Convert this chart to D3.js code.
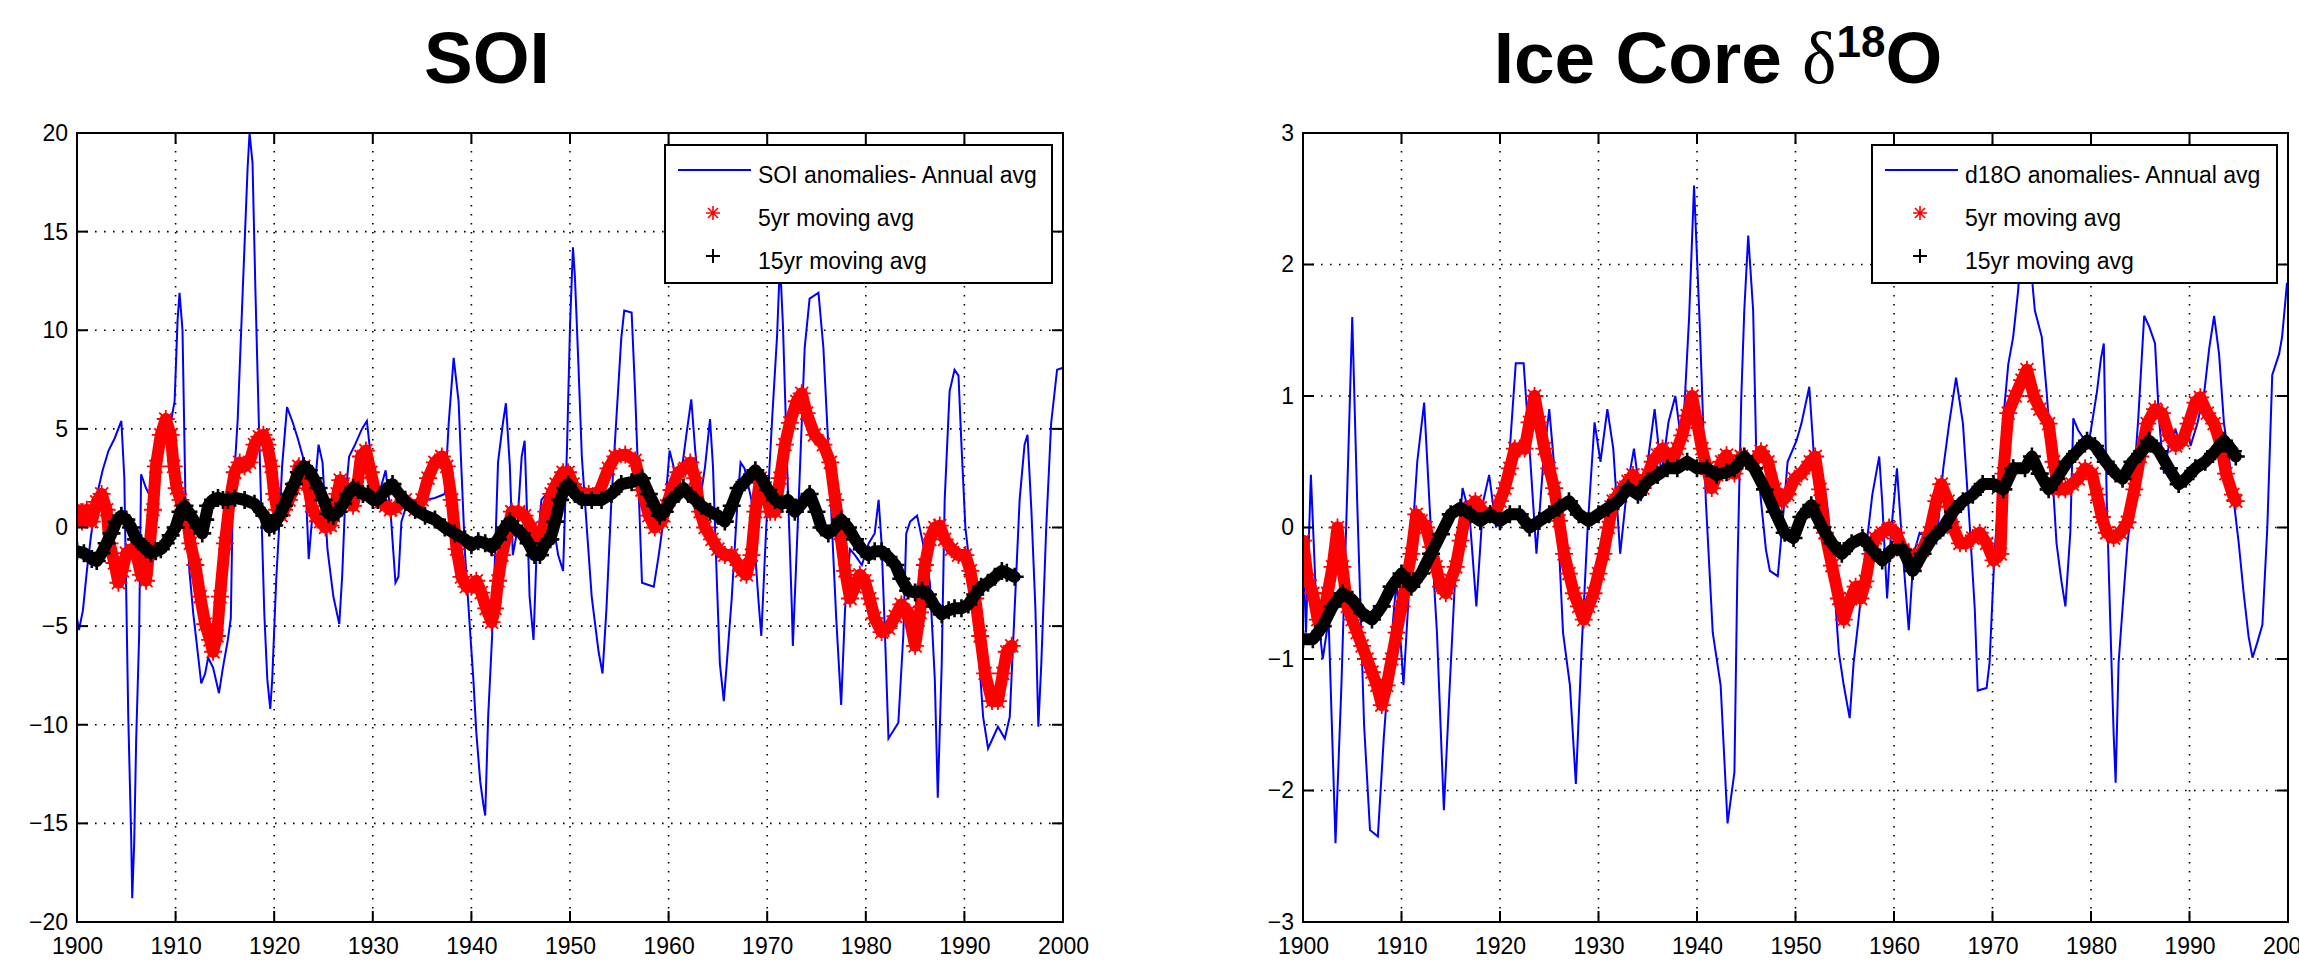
<!DOCTYPE html>
<html><head><meta charset="utf-8">
<script src="https://cdn.jsdelivr.net/npm/d3@7/dist/d3.min.js"></script>
<style>body{margin:0;background:#fff}svg{display:block}</style>
</head><body>
<svg id="c" width="2299" height="969"></svg>
<script>
// ---------- data ----------
const xTicks = [1900,1910,1920,1930,1940,1950,1960,1970,1980,1990,2000];
const soiTicks = [-20,-15,-10,-5,0,5,10,15,20];
const iceTicks = [-3,-2,-1,0,1,2,3];

const soiLegend = ["SOI anomalies- Annual avg","5yr moving avg","15yr moving avg"];
const iceLegend = ["d18O anomalies- Annual avg","5yr moving avg","15yr moving avg"];

const soiAnnual = [[1900.0,-4.6],[1900.2,-5.2],[1900.6,-4.2],[1901.0,-2.2],[1901.4,-0.5],[1902.0,1.6],[1902.6,2.9],[1903.2,3.9],[1903.8,4.5],[1904.5,5.4],[1904.8,2.5],[1905.2,-9.6],[1905.5,-15.8],[1905.6,-18.8],[1905.8,-16],[1906.0,-10.8],[1906.3,-5.5],[1906.5,2.7],[1907.0,2.0],[1907.4,1.6],[1907.8,2.8],[1908.2,4.2],[1908.8,4.6],[1909.4,5.0],[1909.9,6.4],[1910.2,10.5],[1910.4,11.9],[1910.7,10.0],[1911.0,1.4],[1911.4,-2.2],[1911.8,-4.4],[1912.1,-5.7],[1912.6,-7.9],[1913.0,-7.4],[1913.3,-6.6],[1913.8,-7.1],[1914.4,-8.4],[1914.8,-7.1],[1915.3,-5.7],[1915.6,-4.6],[1915.8,1.4],[1916.3,5.5],[1916.8,11.9],[1917.3,18.2],[1917.5,20],[1917.8,18.5],[1918.1,11.9],[1918.5,4.2],[1919.0,-4.4],[1919.3,-7.7],[1919.6,-9.2],[1919.8,-7.7],[1920.2,-2.7],[1920.5,0],[1920.8,3.1],[1921.3,6.1],[1921.9,5.3],[1922.4,4.5],[1922.9,3.6],[1923.2,2.0],[1923.5,-1.6],[1924.0,1.4],[1924.5,4.2],[1924.9,3.3],[1925.4,-1.1],[1926.0,-3.5],[1926.6,-4.9],[1926.9,-2.4],[1927.2,1.4],[1927.6,3.6],[1928.2,4.2],[1928.9,5.0],[1929.4,5.4],[1929.9,3.1],[1930.3,1.4],[1930.8,2.0],[1931.3,2.9],[1931.8,0.8],[1932.3,-2.8],[1932.6,-2.5],[1932.9,0.3],[1933.6,1.4],[1934.3,1.4],[1935.3,1.4],[1936.3,1.5],[1937.3,1.7],[1937.7,5.3],[1938.2,8.6],[1938.7,6.4],[1939.0,2.8],[1939.35,-1.3],[1939.9,-5.5],[1940.2,-7.7],[1940.5,-10.4],[1940.9,-12.9],[1941.2,-14.0],[1941.4,-14.6],[1941.7,-9.6],[1942.1,-5.5],[1942.4,-1.4],[1942.7,3.3],[1943.2,5.3],[1943.5,6.3],[1943.9,3.1],[1944.2,-1.4],[1944.6,-0.3],[1945.1,3.6],[1945.4,4.4],[1945.6,1.4],[1945.9,-3.5],[1946.3,-5.7],[1946.6,-1.4],[1947.1,1.4],[1947.6,1.7],[1948.1,0.8],[1948.8,-1.4],[1949.3,-2.2],[1949.7,4.1],[1950.0,10.2],[1950.3,14.2],[1950.5,12.7],[1950.85,8.3],[1951.2,3.6],[1951.7,0],[1952.2,-3.5],[1952.9,-6.3],[1953.3,-7.4],[1953.7,-4.1],[1954.2,1.4],[1954.7,5.5],[1955.2,9.6],[1955.5,11.0],[1956.25,10.9],[1956.6,6.9],[1956.9,2.8],[1957.3,-2.8],[1957.9,-2.9],[1958.5,-3.0],[1959.0,-1.4],[1959.6,0.8],[1960.1,3.9],[1960.5,3.1],[1960.8,1.4],[1961.3,2.8],[1961.8,4.7],[1962.3,6.5],[1962.7,3.9],[1963.2,1.4],[1963.7,3.1],[1964.2,5.5],[1964.5,3.1],[1964.9,-2.8],[1965.2,-6.9],[1965.6,-8.8],[1965.9,-6.9],[1966.4,-3.6],[1967.0,1.4],[1967.3,3.3],[1967.7,3.0],[1968.4,1.4],[1969.1,-3.6],[1969.4,-5.5],[1969.9,0],[1970.5,5.5],[1971.0,9.7],[1971.3,13.5],[1971.6,10.2],[1972.1,1.9],[1972.5,-4.1],[1972.6,-6.0],[1973.2,1.4],[1973.8,9.1],[1974.3,11.6],[1975.2,11.9],[1975.7,9.1],[1976.2,4.1],[1976.7,-1.4],[1977.0,-4.6],[1977.5,-9.0],[1977.9,-4.1],[1978.4,-1.1],[1978.9,-1.4],[1979.6,-1.9],[1980.3,-0.8],[1980.9,-0.3],[1981.3,1.4],[1981.6,-0.8],[1981.95,-5.5],[1982.3,-10.7],[1983.3,-9.9],[1983.8,-5.5],[1984.1,-0.3],[1984.5,0.3],[1985.2,0.6],[1985.8,-0.8],[1986.5,-2.8],[1987.0,-7.7],[1987.3,-13.7],[1987.7,-6.9],[1988.0,1.4],[1988.5,6.9],[1989.0,8.0],[1989.4,7.7],[1989.7,4.2],[1990.1,0],[1990.6,-2.2],[1991.2,-4.6],[1991.9,-9.6],[1992.4,-11.2],[1993.4,-10.1],[1994.1,-10.7],[1994.6,-9.6],[1995.1,-4.1],[1995.6,1.4],[1996.1,4.2],[1996.4,4.7],[1996.8,0.8],[1997.2,-4.1],[1997.5,-10.1],[1997.8,-6.9],[1998.3,0],[1998.8,5.3],[1999.4,8.0],[2000.0,8.1]];

const soiMA5 = [[1900.0,0.9],[1900.5,0.3],[1901.0,0.9],[1901.5,0.3],[1902.0,1.3],[1902.5,1.7],[1903.0,0.9],[1903.3,-0.8],[1903.8,-1.8],[1904.2,-2.8],[1904.6,-2.2],[1905.0,-1.3],[1905.5,-1.1],[1906.0,-1.3],[1906.5,-2.4],[1907.0,-2.7],[1907.3,-1.3],[1907.7,0.9],[1908.0,3.1],[1908.5,4.7],[1909.0,5.5],[1909.5,4.7],[1909.8,3.1],[1910.1,2.0],[1910.5,1.4],[1910.8,0.9],[1911.2,0.3],[1911.5,-0.8],[1912.0,-1.9],[1912.5,-3.5],[1913.0,-4.9],[1913.5,-5.7],[1913.8,-6.3],[1914.2,-5.5],[1914.5,-3.5],[1915.0,-0.8],[1915.5,1.4],[1916.0,2.8],[1916.5,3.3],[1917.0,3.1],[1917.5,3.3],[1918.0,4.2],[1918.5,4.6],[1918.9,4.7],[1919.3,4.2],[1919.7,3.1],[1920.0,1.7],[1920.3,0.9],[1920.7,0.6],[1921.0,0.9],[1921.5,1.4],[1922.0,2.0],[1922.5,3.1],[1923.0,3.1],[1923.4,2.2],[1923.8,1.1],[1924.2,0.6],[1924.7,0.3],[1925.2,0],[1925.7,0.1],[1926.0,0.6],[1926.4,1.7],[1926.7,2.4],[1927.0,2.2],[1927.5,1.4],[1928.0,1.1],[1928.4,2.0],[1928.8,3.6],[1929.3,3.9],[1929.8,2.8],[1930.3,1.7],[1930.8,1.3],[1931.3,1.1],[1931.8,0.9],[1932.3,1.0],[1933.3,1.4],[1934.3,0.9],[1935.0,1.4],[1935.6,2.5],[1936.3,3.3],[1937.0,3.6],[1937.5,3.1],[1938.0,1.4],[1938.5,-1.1],[1939.0,-2.5],[1939.5,-3.0],[1940.0,-3.0],[1940.5,-2.7],[1941.0,-3.3],[1941.5,-4.1],[1942.05,-4.8],[1942.4,-4.1],[1942.7,-2.7],[1943.1,-1.4],[1943.6,-0.3],[1944.1,0.8],[1944.8,0.8],[1945.4,0.6],[1946.1,0],[1946.6,-0.6],[1947.1,-0.6],[1947.6,0.8],[1948.1,1.7],[1948.6,2.2],[1949.3,2.8],[1949.8,2.8],[1950.3,2.2],[1951.0,1.7],[1951.9,1.7],[1952.9,1.7],[1953.9,3.0],[1954.6,3.6],[1955.6,3.7],[1956.6,3.4],[1957.3,1.9],[1958.0,0.6],[1958.6,0],[1959.3,0.3],[1959.8,1.1],[1960.3,1.9],[1961.0,2.8],[1961.7,3.0],[1962.2,3.3],[1962.7,2.5],[1963.2,0.8],[1963.7,0],[1964.4,-0.6],[1965.0,-1.1],[1965.7,-1.4],[1966.4,-1.4],[1967.1,-1.9],[1967.4,-2.2],[1967.9,-2.4],[1968.4,-1.4],[1968.8,0.8],[1969.3,2.5],[1969.8,2.0],[1970.3,0.8],[1970.8,0.8],[1971.3,2.5],[1971.8,4.2],[1972.3,5.3],[1973.0,6.4],[1973.5,6.8],[1974.0,5.8],[1974.8,4.7],[1975.7,4.2],[1976.4,3.3],[1976.9,1.4],[1977.4,-0.3],[1977.9,-2.2],[1978.4,-3.6],[1978.9,-3.0],[1979.4,-2.4],[1979.9,-2.7],[1980.4,-3.6],[1980.9,-4.6],[1981.6,-5.3],[1982.3,-5.1],[1983.0,-4.5],[1983.6,-3.9],[1984.3,-4.3],[1985.0,-6.0],[1985.5,-4.3],[1986.0,-1.9],[1986.5,-0.6],[1987.0,0],[1987.5,0.1],[1988.0,-0.6],[1988.7,-1.1],[1989.4,-1.4],[1990.1,-1.4],[1990.6,-2.2],[1991.1,-3.6],[1991.6,-5.5],[1992.1,-7.4],[1992.8,-8.8],[1993.4,-8.8],[1993.9,-7.4],[1994.3,-6.3],[1994.8,-6.0]];

const soiMA15 = [[1900.0,-1.2],[1900.7,-1.3],[1901.5,-1.6],[1902.0,-1.7],[1902.5,-1.3],[1903.0,-0.8],[1903.5,-0.3],[1904.0,0.3],[1904.5,0.6],[1905.0,0.4],[1905.5,0],[1906.0,-0.6],[1906.5,-0.8],[1907.0,-1.1],[1907.5,-1.3],[1908.0,-1.2],[1908.5,-1.1],[1909.0,-0.8],[1909.5,-0.4],[1910.0,0],[1910.5,0.8],[1910.9,1.1],[1911.3,0.8],[1911.8,0.4],[1912.3,0],[1912.7,-0.3],[1913.0,0.4],[1913.3,1.1],[1913.8,1.4],[1914.3,1.5],[1914.8,1.4],[1915.3,1.4],[1916.0,1.5],[1917.0,1.4],[1918.0,1.2],[1919.0,0.6],[1919.5,0],[1920.0,0.1],[1920.5,0.6],[1921.0,1.1],[1921.5,1.7],[1922.0,2.2],[1922.5,2.8],[1923.0,3.1],[1923.5,2.9],[1924.0,2.5],[1924.5,2.0],[1925.0,1.4],[1925.5,0.7],[1926.0,0.6],[1926.5,0.8],[1927.0,1.2],[1927.5,1.7],[1928.0,2.0],[1928.5,1.9],[1929.0,1.7],[1929.5,1.7],[1930.0,1.4],[1930.5,1.4],[1931.0,1.7],[1931.5,2.0],[1932.0,2.2],[1932.5,1.8],[1933.3,1.3],[1934.3,0.9],[1935.3,0.6],[1936.3,0.4],[1937.3,0.0],[1938.3,-0.3],[1939.35,-0.6],[1940.0,-0.9],[1940.7,-0.7],[1941.4,-0.8],[1942.05,-1.0],[1942.7,-0.6],[1943.4,0],[1943.9,0.3],[1944.4,0],[1945.1,-0.3],[1945.8,-0.8],[1946.4,-1.4],[1946.95,-1.4],[1947.5,-0.8],[1948.0,-0.6],[1948.5,0.3],[1949.0,1.4],[1949.5,2.0],[1949.8,2.2],[1950.5,1.7],[1951.2,1.4],[1952.2,1.4],[1953.2,1.4],[1954.2,1.7],[1955.2,2.2],[1956.25,2.3],[1957.3,2.5],[1958.0,1.7],[1958.6,1.1],[1959.1,0.6],[1959.6,0.8],[1960.3,1.4],[1961.0,1.7],[1961.5,2.0],[1962.0,1.7],[1962.7,1.4],[1963.35,1.1],[1964.2,0.8],[1965.0,0.6],[1965.7,0.3],[1966.4,1.1],[1967.1,2.0],[1967.7,2.3],[1968.8,2.9],[1969.4,2.5],[1970.1,1.9],[1970.8,1.4],[1971.5,1.2],[1972.1,1.4],[1972.8,0.8],[1973.5,1.2],[1974.3,1.7],[1975.0,0.8],[1975.5,0],[1976.2,-0.3],[1976.9,0],[1977.5,0.4],[1978.2,0],[1978.9,-0.6],[1979.6,-1.1],[1980.3,-1.4],[1980.9,-1.2],[1981.6,-1.2],[1982.3,-1.5],[1983.0,-1.9],[1983.6,-2.6],[1984.3,-3.2],[1985.0,-3.3],[1985.7,-3.2],[1986.3,-3.4],[1987.0,-4.0],[1987.7,-4.4],[1988.4,-4.2],[1989.0,-4.1],[1989.7,-4.1],[1990.4,-3.9],[1991.1,-3.4],[1991.7,-3.0],[1992.4,-2.8],[1993.1,-2.5],[1993.8,-2.2],[1994.3,-2.3],[1995.1,-2.5]];

const iceAnnual = [[1900.0,-0.1],[1900.3,-0.8],[1900.8,0.4],[1901.3,-0.5],[1902.0,-1.0],[1902.6,-0.7],[1903.3,-2.4],[1903.9,-1.2],[1904.5,0.3],[1905.0,1.6],[1905.5,0.2],[1906.2,-1.5],[1906.8,-2.3],[1907.6,-2.35],[1908.2,-1.6],[1908.8,-1.0],[1909.5,-0.4],[1910.2,-1.2],[1910.9,-0.3],[1911.6,0.5],[1912.3,0.95],[1912.9,0.1],[1913.6,-0.8],[1914.3,-2.15],[1914.9,-1.2],[1915.5,-0.3],[1916.2,0.3],[1916.9,0.1],[1917.6,-0.6],[1918.3,0.2],[1918.9,0.4],[1919.6,0.0],[1920.3,0.3],[1921.0,0.6],[1921.6,1.25],[1922.4,1.25],[1923.0,0.6],[1923.7,-0.2],[1924.4,0.5],[1925.0,0.9],[1925.7,0.3],[1926.4,-0.8],[1927.1,-1.2],[1927.7,-1.95],[1928.3,-0.9],[1928.9,0.0],[1929.6,0.8],[1930.2,0.5],[1930.9,0.9],[1931.5,0.6],[1932.2,-0.2],[1932.9,0.3],[1933.6,0.6],[1934.3,0.2],[1935.0,0.5],[1935.7,0.9],[1936.4,0.4],[1937.1,0.8],[1937.8,1.0],[1938.5,0.6],[1939.2,1.6],[1939.7,2.6],[1940.3,1.5],[1940.9,0.2],[1941.6,-0.8],[1942.4,-1.2],[1943.1,-2.25],[1943.8,-1.86],[1944.1,-0.33],[1944.5,1.0],[1944.8,1.65],[1945.2,2.22],[1945.7,1.65],[1946.0,0.62],[1946.5,0.2],[1947.0,-0.17],[1947.4,-0.33],[1948.2,-0.37],[1948.6,-0.04],[1949.2,0.5],[1950.1,0.66],[1950.6,0.79],[1951.4,1.07],[1951.8,0.62],[1952.3,0],[1953.0,0.29],[1953.3,0.12],[1953.9,-0.41],[1954.4,-0.95],[1954.9,-1.2],[1955.5,-1.45],[1955.9,-1.03],[1956.4,-0.7],[1957.1,-0.2],[1957.8,0.25],[1958.5,0.54],[1958.8,0.2],[1959.3,-0.54],[1959.7,-0.04],[1960.3,0.45],[1960.9,-0.2],[1961.5,-0.78],[1962.0,-0.2],[1962.6,-0.04],[1963.4,-0.08],[1964.3,-0.12],[1965.0,0.45],[1965.6,0.79],[1966.3,1.14],[1967.0,0.79],[1967.7,0],[1968.2,-0.62],[1968.5,-1.24],[1969.4,-1.22],[1969.7,-1.03],[1970.2,-0.2],[1970.8,0.41],[1971.1,0.83],[1971.6,1.24],[1972.1,1.45],[1972.6,1.8],[1973.3,2.5],[1974.0,1.9],[1974.3,1.65],[1975.0,1.45],[1975.5,1.03],[1976.0,0.5],[1976.5,-0.12],[1977.0,-0.41],[1977.4,-0.6],[1977.9,-0.04],[1978.2,0.83],[1978.7,0.74],[1979.4,0.66],[1979.9,0.7],[1980.6,1.03],[1981.0,1.28],[1981.3,1.4],[1981.6,0.2],[1982.0,-0.83],[1982.3,-1.57],[1982.5,-1.94],[1982.8,-1.03],[1983.2,-0.62],[1983.7,-0.12],[1984.2,0.2],[1984.8,0.83],[1985.4,1.61],[1985.9,1.53],[1986.5,1.4],[1986.9,0.83],[1987.4,0.41],[1987.9,0.62],[1988.6,0.74],[1989.1,0.62],[1989.8,0.79],[1990.1,0.62],[1990.8,0.79],[1991.5,1.03],[1992.0,1.36],[1992.5,1.61],[1993.0,1.32],[1993.5,0.79],[1994.0,0.54],[1994.5,0.2],[1995.0,-0.12],[1995.5,-0.5],[1996.0,-0.83],[1996.4,-0.99],[1996.9,-0.87],[1997.4,-0.74],[1997.9,0],[1998.4,1.16],[1999.1,1.32],[1999.4,1.45],[1999.9,1.86]];

const iceMA5 = [[1900.0,-0.1],[1900.5,-0.4],[1901.0,-0.5],[1901.5,-0.7],[1902.0,-0.7],[1902.5,-0.5],[1903.0,-0.3],[1903.5,0.0],[1904.0,-0.3],[1904.5,-0.6],[1905.0,-0.7],[1905.5,-0.8],[1906.0,-0.9],[1906.5,-1.0],[1907.0,-1.1],[1907.5,-1.2],[1908.0,-1.35],[1908.5,-1.2],[1909.0,-1.0],[1909.5,-0.8],[1910.0,-0.6],[1910.5,-0.4],[1911.0,-0.2],[1911.5,0.1],[1912.0,0.05],[1912.5,0.0],[1913.0,-0.15],[1913.5,-0.3],[1914.0,-0.45],[1914.5,-0.5],[1915.0,-0.4],[1915.5,-0.3],[1916.0,-0.1],[1916.5,0.1],[1917.0,0.15],[1917.5,0.2],[1918.0,0.15],[1918.5,0.1],[1919.0,0.1],[1919.5,0.1],[1920.0,0.2],[1920.5,0.3],[1921.0,0.45],[1921.5,0.6],[1922.0,0.6],[1922.5,0.6],[1923.0,0.8],[1923.5,1.0],[1924.0,0.8],[1924.5,0.6],[1925.0,0.45],[1925.5,0.3],[1926.0,0.05],[1926.5,-0.2],[1927.0,-0.35],[1927.5,-0.5],[1928.0,-0.6],[1928.5,-0.7],[1929.0,-0.6],[1929.5,-0.5],[1930.0,-0.35],[1930.5,-0.2],[1931.0,0.0],[1931.5,0.2],[1932.0,0.25],[1932.5,0.3],[1933.0,0.35],[1933.5,0.4],[1934.0,0.35],[1934.5,0.3],[1935.0,0.4],[1935.5,0.5],[1936.0,0.55],[1936.5,0.6],[1937.0,0.55],[1937.5,0.5],[1938.0,0.6],[1938.5,0.7],[1939.0,0.85],[1939.5,1.0],[1940.0,0.8],[1940.5,0.6],[1941.0,0.45],[1941.5,0.3],[1942.0,0.4],[1942.5,0.5],[1943.0,0.55],[1943.8,0.41],[1944.5,0.54],[1945.2,0.5],[1945.8,0.5],[1946.5,0.58],[1947.2,0.5],[1947.9,0.29],[1948.6,0.2],[1949.2,0.25],[1949.9,0.37],[1950.6,0.41],[1951.5,0.5],[1952.0,0.54],[1952.5,0.29],[1953.0,-0.04],[1953.7,-0.29],[1954.4,-0.54],[1954.9,-0.7],[1955.6,-0.54],[1956.1,-0.45],[1956.6,-0.54],[1957.1,-0.41],[1957.6,-0.2],[1958.1,-0.08],[1958.8,-0.04],[1959.5,0],[1960.2,-0.04],[1960.9,-0.17],[1961.5,-0.2],[1962.2,-0.25],[1962.9,-0.17],[1963.6,-0.04],[1964.3,0.2],[1964.8,0.33],[1965.5,0.2],[1966.0,0],[1966.7,-0.12],[1967.3,-0.12],[1968.0,-0.08],[1968.7,-0.04],[1969.4,-0.12],[1970.1,-0.25],[1970.8,-0.2],[1971.1,0.41],[1971.6,0.87],[1972.3,1.0],[1973.0,1.12],[1973.5,1.2],[1974.2,1.0],[1974.8,0.9],[1975.7,0.79],[1976.2,0.5],[1976.7,0.29],[1977.4,0.29],[1978.1,0.33],[1978.7,0.37],[1979.4,0.45],[1980.1,0.41],[1980.6,0.25],[1981.1,0.08],[1981.6,-0.04],[1982.3,-0.08],[1983.0,-0.04],[1983.7,0.04],[1984.4,0.29],[1985.0,0.54],[1985.7,0.79],[1986.5,0.9],[1987.2,0.87],[1987.9,0.7],[1988.6,0.62],[1989.3,0.66],[1989.9,0.79],[1990.6,0.95],[1991.1,0.99],[1991.8,0.87],[1992.5,0.79],[1993.2,0.62],[1993.7,0.41],[1994.4,0.25],[1994.7,0.2]];

const iceMA15 = [[1900.0,-0.85],[1901.0,-0.85],[1902.0,-0.75],[1903.0,-0.6],[1904.0,-0.5],[1905.0,-0.55],[1906.0,-0.65],[1907.0,-0.7],[1908.0,-0.6],[1909.0,-0.45],[1910.0,-0.35],[1911.0,-0.45],[1912.0,-0.35],[1913.0,-0.2],[1914.0,-0.05],[1915.0,0.1],[1916.0,0.15],[1917.0,0.1],[1918.0,0.05],[1919.0,0.1],[1920.0,0.05],[1921.0,0.1],[1922.0,0.1],[1923.0,0.0],[1924.0,0.05],[1925.0,0.1],[1926.0,0.15],[1927.0,0.2],[1928.0,0.1],[1929.0,0.05],[1930.0,0.1],[1931.0,0.15],[1932.0,0.2],[1933.0,0.3],[1934.0,0.25],[1935.0,0.35],[1936.0,0.4],[1937.0,0.45],[1938.0,0.45],[1939.0,0.5],[1940.0,0.45],[1941.0,0.45],[1942.0,0.4],[1943.0,0.42],[1943.8,0.45],[1944.8,0.54],[1945.8,0.45],[1946.9,0.29],[1947.9,0.12],[1948.9,-0.04],[1949.8,-0.08],[1950.6,0.08],[1951.6,0.17],[1952.7,0],[1953.7,-0.12],[1954.7,-0.2],[1955.7,-0.12],[1956.8,-0.08],[1957.8,-0.17],[1958.8,-0.25],[1959.8,-0.17],[1960.9,-0.17],[1961.9,-0.33],[1962.9,-0.2],[1963.9,-0.08],[1965.0,0],[1966.0,0.12],[1967.0,0.2],[1968.0,0.25],[1969.0,0.33],[1970.1,0.33],[1971.1,0.29],[1972.1,0.45],[1973.3,0.45],[1974.0,0.54],[1974.8,0.41],[1975.7,0.29],[1976.5,0.37],[1977.6,0.5],[1978.6,0.58],[1979.6,0.66],[1980.4,0.62],[1981.5,0.5],[1982.5,0.41],[1983.2,0.37],[1984.2,0.5],[1985.2,0.58],[1985.9,0.66],[1986.9,0.58],[1987.9,0.45],[1988.9,0.33],[1989.6,0.37],[1990.6,0.45],[1991.6,0.5],[1992.6,0.58],[1993.5,0.66],[1994.4,0.58],[1994.7,0.54]];

// ---------- drawing ----------
const svg = d3.select("#c");
const FONT = "'Liberation Sans', Arial, Helvetica, sans-serif";

function starPath(r){ const d=r*0.72; return `M${-r},0L${r},0M0,${-r}L0,${r}M${-d},${-d}L${d},${d}M${-d},${d}L${d},${-d}`; }
function plusPath(r){ return `M${-r},0L${r},0M0,${-r}L0,${r}`; }

function panel(o){
  const g = svg.append("g");
  const x = d3.scaleLinear().domain([1900,2000]).range([o.x0,o.x1]);
  const y = d3.scaleLinear().domain(o.yDomain).range([o.y1,o.y0]);
  const clipId = "clip"+o.id;
  svg.append("clipPath").attr("id",clipId).append("rect")
     .attr("x",o.x0).attr("y",o.y0).attr("width",o.x1-o.x0).attr("height",o.y1-o.y0);

  // grid
  const grid = g.append("g").attr("stroke","#000").attr("stroke-width",1.6)
     .attr("stroke-dasharray","1.6,7.4").attr("fill","none");
  xTicks.slice(1,-1).forEach(t=>grid.append("line").attr("x1",x(t)).attr("x2",x(t)).attr("y1",o.y0).attr("y2",o.y1));
  o.yTicks.slice(1,-1).forEach(t=>grid.append("line").attr("x1",o.x0).attr("x2",o.x1).attr("y1",y(t)).attr("y2",y(t)));

  const data = g.append("g").attr("clip-path",`url(#${clipId})`);
  const line = d3.line().x(d=>x(d[0])).y(d=>y(d[1]));
  data.append("path").attr("d",line(o.annual)).attr("fill","none").attr("stroke","#0000ff").attr("stroke-width",2);

  data.append("path").attr("d",line(o.ma5)).attr("fill","none").attr("stroke","#ff0000")
      .attr("stroke-width",12).attr("stroke-linejoin","round").attr("stroke-linecap","round");
  data.append("g").selectAll("path").data(o.ma5).join("path")
      .attr("transform",d=>`translate(${x(d[0])},${y(d[1])})`).attr("d",starPath(9))
      .attr("stroke","#ff0000").attr("stroke-width",1.8).attr("fill","none");

  data.append("path").attr("d",line(o.ma15)).attr("fill","none").attr("stroke","#000")
      .attr("stroke-width",12).attr("stroke-linejoin","round").attr("stroke-linecap","round");
  data.append("g").selectAll("path").data(o.ma15).join("path")
      .attr("transform",d=>`translate(${x(d[0])},${y(d[1])})`).attr("d",plusPath(9))
      .attr("stroke","#000").attr("stroke-width",2.6).attr("fill","none");

  // ticks on all 4 sides (inward)
  const tk = g.append("g").attr("stroke","#000").attr("stroke-width",2);
  const L = 11;
  xTicks.forEach(t=>{
    tk.append("line").attr("x1",x(t)).attr("x2",x(t)).attr("y1",o.y1).attr("y2",o.y1-L);
    tk.append("line").attr("x1",x(t)).attr("x2",x(t)).attr("y1",o.y0).attr("y2",o.y0+L);
  });
  o.yTicks.forEach(t=>{
    tk.append("line").attr("x1",o.x0).attr("x2",o.x0+L).attr("y1",y(t)).attr("y2",y(t));
    tk.append("line").attr("x1",o.x1).attr("x2",o.x1-L).attr("y1",y(t)).attr("y2",y(t));
  });

  // axes labels
  const ax = g.append("g").attr("transform",`translate(0,${o.y1})`)
     .call(d3.axisBottom(x).tickValues(xTicks).tickFormat(d3.format("d")).tickSize(0).tickPadding(16));
  ax.select(".domain").remove();
  ax.selectAll("text").attr("font-family",FONT).attr("font-size",23).attr("fill","#000");
  const ay = g.append("g").attr("transform",`translate(${o.x0},0)`)
     .call(d3.axisLeft(y).tickValues(o.yTicks).tickFormat(d3.format("d")).tickSize(0).tickPadding(9));
  ay.select(".domain").remove();
  ay.selectAll("text").attr("font-family",FONT).attr("font-size",23).attr("fill","#000");

  // frame
  g.append("rect").attr("x",o.x0).attr("y",o.y0).attr("width",o.x1-o.x0).attr("height",o.y1-o.y0)
   .attr("fill","none").attr("stroke","#000").attr("stroke-width",2);

  // legend
  const lg = g.append("g");
  lg.append("rect").attr("x",o.lx0).attr("y",145).attr("width",o.lx1-o.lx0).attr("height",138)
    .attr("fill","#fff").attr("stroke","#000").attr("stroke-width",2);
  lg.append("line").attr("x1",o.lx0+13).attr("x2",o.lx0+86).attr("y1",170).attr("y2",170)
    .attr("stroke","#0000ff").attr("stroke-width",2);
  lg.append("path").attr("transform",`translate(${o.lx0+48},213)`).attr("d",starPath(7))
    .attr("stroke","#ff0000").attr("stroke-width",1.6).attr("fill","none");
  lg.append("path").attr("transform",`translate(${o.lx0+48},256)`).attr("d",plusPath(7))
    .attr("stroke","#000").attr("stroke-width",2).attr("fill","none");
  const ty = [183,226,269];
  o.legend.forEach((s,i)=>lg.append("text").attr("x",o.lx0+93).attr("y",ty[i])
    .attr("font-family",FONT).attr("font-size",23).attr("fill","#000").text(s));
}

panel({id:"soi",x0:77,x1:1063,y0:133,y1:922,yDomain:[-20,20],yTicks:soiTicks,
       annual:soiAnnual,ma5:soiMA5,ma15:soiMA15,legend:soiLegend,lx0:665,lx1:1052});
panel({id:"ice",x0:1303,x1:2288,y0:133,y1:922,yDomain:[-3,3],yTicks:iceTicks,
       annual:iceAnnual,ma5:iceMA5,ma15:iceMA15,legend:iceLegend,lx0:1872,lx1:2277});

// titles
svg.append("text").attr("x",487).attr("y",83).attr("text-anchor","middle")
   .attr("font-family",FONT).attr("font-weight","bold").attr("font-size",73).text("SOI");
const t2 = svg.append("text").attr("x",1718).attr("y",83).attr("text-anchor","middle")
   .attr("font-family",FONT).attr("font-weight","bold").attr("font-size",73);
t2.append("tspan").text("Ice Core ");
t2.append("tspan").attr("font-family","'Liberation Serif', serif").attr("font-weight","normal").text("δ");
t2.append("tspan").attr("font-size",44).attr("dy",-26).text("18");
t2.append("tspan").attr("dy",26).text("O");
</script>
</body></html>
